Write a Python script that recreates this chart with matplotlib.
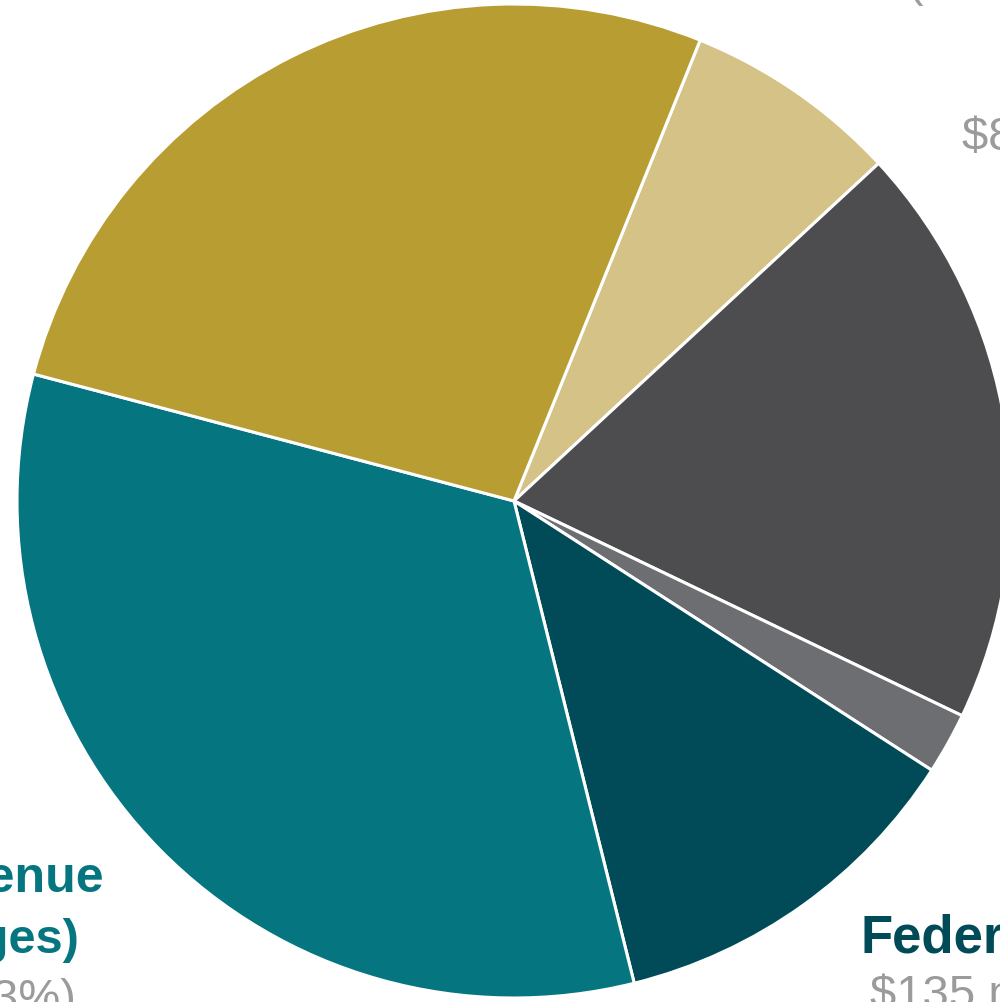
import matplotlib.pyplot as plt

# slices, clockwise from the top right
labels = ['Gifts', 'Other', 'Misc', 'Federal', 'Tuition Revenue', 'State']
shares = [7, 19, 2, 12, 33, 27]
colors = ['#D4C287', '#4D4D4F', '#6D6E71', '#004B57', '#05757F', '#B89D33']

W, H = 1000, 1003
fig = plt.figure(figsize=(W / 100, H / 100), dpi=100)
ax = fig.add_axes([0, 0, 1, 1])

ax.pie(shares, colors=colors, startangle=68, counterclock=False,
       center=(514, H - 502), radius=497,
       wedgeprops=dict(edgecolor='white', linewidth=2.2))

ax.set_xlim(0, W)
ax.set_ylim(0, H)
ax.set_aspect('equal')
ax.axis('off')

font = 'Liberation Sans'
bsize = 38
gsize = 34
gray = '#9B9B9B'

# Federal label (bottom right)
ax.text(861, H - 953, 'Federal', color='#004B57', fontsize=bsize,
        fontweight='bold', family=font, va='baseline', ha='left')
ax.text(870, H - 1008, '$135 million (12%)', color=gray, fontsize=gsize,
        family=font, va='baseline', ha='left')

# Tuition label (bottom left)
ax.text(104, H - 892, 'Tuition Revenue', color='#05757F', fontsize=36,
        fontweight='bold', family=font, va='baseline', ha='right')
ax.text(79, H - 953, '(student charges)', color='#05757F', fontsize=35,
        fontweight='bold', family=font, va='baseline', ha='right')
ax.text(76, H - 1012, '$370 million (33%)', color=gray, fontsize=gsize,
        family=font, va='baseline', ha='right')

# Gifts label (top right)
ax.text(907, H + 4, '(endowment)', color=gray, fontsize=gsize,
        family=font, va='baseline', ha='left')
ax.text(962, H - 150, '$80 million (7%)', color=gray, fontsize=gsize,
        family=font, va='baseline', ha='left')

fig.savefig('out.png', dpi=100)
